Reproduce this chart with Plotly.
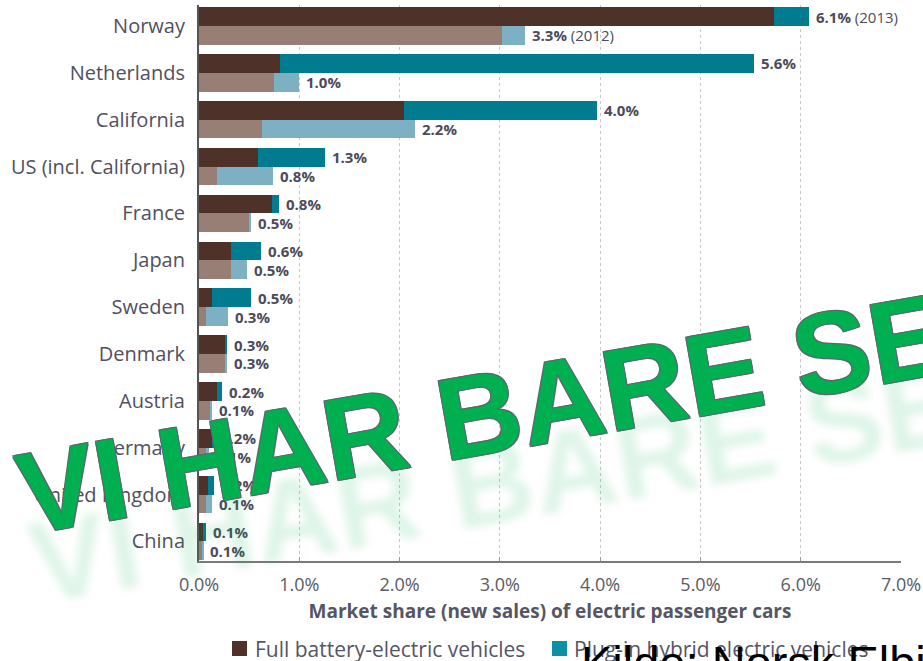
import numpy as np
import plotly.graph_objects as go

# ---------------- data ----------------
countries = ["Norway", "Netherlands", "California", "US (incl. California)", "France",
             "Japan", "Sweden", "Denmark", "Austria", "Germany", "United Kingdom", "China"]

bev_2013 = [5.73, 0.81, 2.04, 0.59, 0.73, 0.32, 0.13, 0.26, 0.18, 0.13, 0.09, 0.04]
phev_2013 = [0.35, 4.72, 1.93, 0.67, 0.07, 0.30, 0.39, 0.02, 0.05, 0.02, 0.06, 0.03]
bev_2012 = [3.02, 0.75, 0.63, 0.18, 0.50, 0.32, 0.07, 0.26, 0.11, 0.07, 0.07, 0.03]
phev_2012 = [0.23, 0.25, 1.52, 0.56, 0.02, 0.16, 0.22, 0.02, 0.02, 0.03, 0.06, 0.01]

labels_2013 = ["<b>6.1%</b> (2013)", "<b>5.6%</b>", "<b>4.0%</b>", "<b>1.3%</b>", "<b>0.8%</b>", "<b>0.6%</b>",
               "<b>0.5%</b>", "<b>0.3%</b>", "<b>0.2%</b>", "<b>0.2%</b>", "<b>0.2%</b>", "<b>0.1%</b>"]
labels_2012 = ["<b>3.3%</b> (2012)", "<b>1.0%</b>", "<b>2.2%</b>", "<b>0.8%</b>", "<b>0.5%</b>", "<b>0.5%</b>",
               "<b>0.3%</b>", "<b>0.3%</b>", "<b>0.1%</b>", "<b>0.1%</b>", "<b>0.1%</b>", "<b>0.1%</b>"]

x_ticks = [0, 1, 2, 3, 4, 5, 6, 7]
x_ticktext = ["0.0%", "1.0%", "2.0%", "3.0%", "4.0%", "5.0%", "6.0%", "7.0%"]

legend_names = ["Full battery-electric vehicles", "Plug-in hybrid electric vehicles"]
watermark = "VI HAR BARE SE"
source = "Kilde: Norsk Elbi"

# ---------------- style ----------------
C_BEV13 = "#4e3229"
C_PHEV13 = "#007b90"
C_BEV12 = "#977f75"
C_PHEV12 = "#7db0c2"
C_LEG_PHEV = "#0e8fa3"
TXT = "#4b4b5b"

W, H = 923, 661
ML, MR, MT, MB = 199, 22, 5, 100
PW, PH = W - ML - MR, H - MT - MB


def px2x(px):
    return (px - ML) / PW


def py2y(py):
    return (H - MB - py) / PH


pos = np.arange(len(countries))
y13 = pos - 0.2
y12 = pos + 0.2

fig = go.Figure()
fig.add_trace(go.Bar(y=y13, x=bev_2013, orientation="h", width=0.4, marker=dict(color=C_BEV13, line_width=0),
                     name=legend_names[0], showlegend=False))
fig.add_trace(go.Bar(y=y13, x=phev_2013, orientation="h", width=0.4, marker=dict(color=C_PHEV13, line_width=0),
                     name=legend_names[1], showlegend=False))
fig.add_trace(go.Bar(y=y12, x=bev_2012, orientation="h", width=0.4, marker=dict(color=C_BEV12, line_width=0),
                     name=legend_names[0] + " (2012)", showlegend=False))
fig.add_trace(go.Bar(y=y12, x=phev_2012, orientation="h", width=0.4, marker=dict(color=C_PHEV12, line_width=0),
                     name=legend_names[1] + " (2012)", showlegend=False))

annotations = []
for i in range(len(countries)):
    annotations.append(dict(x=bev_2013[i] + phev_2013[i], y=y13[i], xref="x", yref="y", text=labels_2013[i],
                            showarrow=False, xanchor="left", yanchor="middle", xshift=5,
                            font=dict(family="Open Sans", size=15, color=TXT)))
    annotations.append(dict(x=bev_2012[i] + phev_2012[i], y=y12[i], xref="x", yref="y", text=labels_2012[i],
                            showarrow=False, xanchor="left", yanchor="middle", xshift=5,
                            font=dict(family="Open Sans", size=15, color=TXT)))

# legend (manual)
shapes = [
    dict(type="rect", xref="paper", yref="paper", x0=px2x(232), x1=px2x(247), y0=py2y(656), y1=py2y(641),
         fillcolor=C_BEV13, line_width=0),
    dict(type="rect", xref="paper", yref="paper", x0=px2x(552), x1=px2x(567), y0=py2y(656), y1=py2y(641),
         fillcolor=C_LEG_PHEV, line_width=0),
]
annotations.append(dict(x=px2x(253), y=py2y(648.5), xref="paper", yref="paper", text=legend_names[0],
                        showarrow=False, xanchor="left", yanchor="middle",
                        font=dict(family="Open Sans", size=21, color="#555566")))
annotations.append(dict(x=px2x(572), y=py2y(648.5), xref="paper", yref="paper", text=legend_names[1],
                        showarrow=False, xanchor="left", yanchor="middle",
                        font=dict(family="Open Sans", size=21, color="#555566")))

# source text
annotations.append(dict(x=px2x(579), y=py2y(634), xref="paper", yref="paper", text=source,
                        showarrow=False, xanchor="left", yanchor="top",
                        font=dict(family="Liberation Sans", size=47, color="#000000")))

# watermark (outline + faint reflection via text shadows)
outline = "#5c6670"
wm_shadow = (f"1px 1px 0 {outline}, -1px -1px 0 {outline}, 1px -1px 0 {outline}, -1px 1px 0 {outline}, "
             "0px 70px 8px rgba(0,176,80,0.13)")
annotations.append(dict(x=px2x(482), y=py2y(414), xref="paper", yref="paper", text="<b>" + watermark + "</b>",
                        showarrow=False, xanchor="center", yanchor="middle", textangle=-10,
                        font=dict(family="Liberation Sans", size=116, color="#00b050", shadow=wm_shadow)))

fig.update_layout(
    width=W, height=H, autosize=False,
    margin=dict(l=ML, r=MR, t=MT, b=MB, pad=0),
    barmode="stack",
    plot_bgcolor="white", paper_bgcolor="white",
    showlegend=False,
    annotations=annotations,
    shapes=shapes,
    xaxis=dict(range=[0, 7], tickvals=x_ticks, ticktext=x_ticktext,
               showgrid=True, gridcolor="#c8c8c8", griddash="dot", gridwidth=1,
               zeroline=False, showline=True, linecolor="#7a7a7a", linewidth=2,
               ticks="inside", ticklen=4, tickcolor="#9a9a9a", tickwidth=1,
               tickfont=dict(family="Open Sans", size=18, color="#5a5a66"),
               ticklabelstandoff=6,
               title=dict(text="<b>Market share (new sales) of electric passenger cars</b>",
                          font=dict(family="Open Sans", size=19, color="#555566"), standoff=10),
               automargin=False),
    yaxis=dict(range=[11.417, -0.448], tickvals=list(pos), ticktext=countries,
               showgrid=False, zeroline=False, showline=True, linecolor="#555555", linewidth=2,
               ticks="", tickfont=dict(family="Open Sans", size=20, color="#50505f"),
               ticklabelstandoff=8, automargin=False),
)

fig.write_html("out.html", config={"displayModeBar": False},
               post_script="document.body.style.margin='0';document.body.style.overflow='hidden';")
